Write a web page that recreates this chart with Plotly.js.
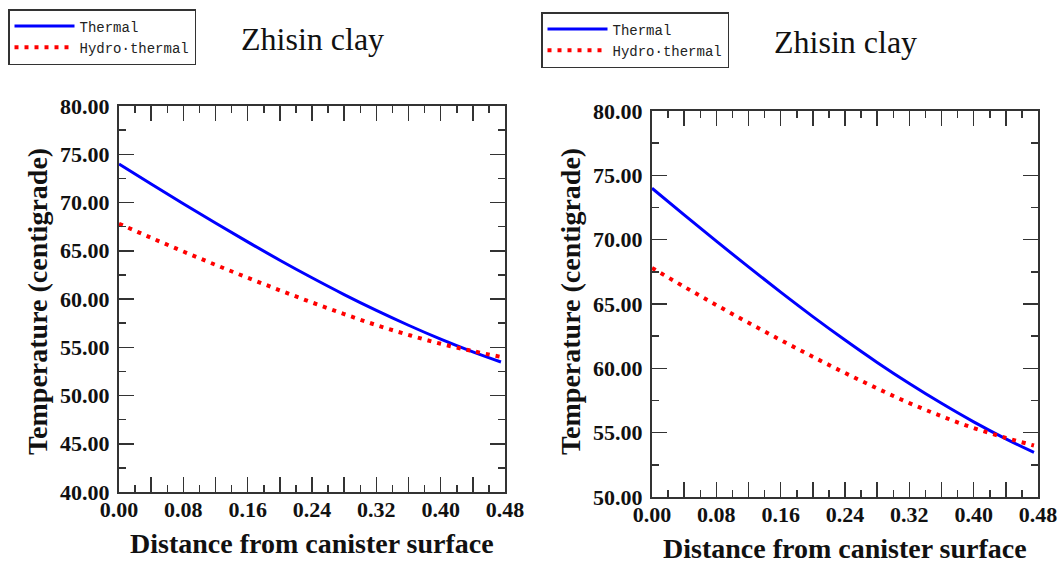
<!DOCTYPE html>
<html><head><meta charset="utf-8">
<script src="https://cdn.plot.ly/plotly-3.0.1.min.js"></script>
<style>html,body{margin:0;padding:0;background:#fff}#chart{width:1059px;height:563px}</style>
</head><body><div id="chart"></div>
<script>
// Data; both panels show the same curves
const distance = [0, 0.04, 0.08, 0.12, 0.16, 0.20, 0.24, 0.28, 0.32, 0.36, 0.40, 0.44, 0.475];
const thermal = [74.0, 71.92, 69.88, 67.88, 65.92, 64.02, 62.2, 60.46, 58.82, 57.28, 55.84, 54.52, 53.47];
const hydroThermal = [67.8, 66.34, 64.92, 63.54, 62.2, 60.9, 59.64, 58.44, 57.3, 56.28, 55.36, 54.6, 54.0];
const seriesNames = ['Thermal', 'Hydro\u00B7thermal'];
const chartTitle = 'Zhisin clay';
const xTitle = 'Distance from canister surface';
const yTitle = 'Temperature (centigrade)';
const xTickVals = [0, 0.04, 0.08, 0.12, 0.16, 0.20, 0.24, 0.28, 0.32, 0.36, 0.40, 0.44, 0.48];
const xTickText = ['0.00', '', '0.08', '', '0.16', '', '0.24', '', '0.32', '', '0.40', '', '0.48'];
const leftYRange = [40, 80];
const rightYRange = [50, 80];

const W = 1059, H = 563;
const px = v => v / W;
const py = v => 1 - v / H;

const blueLine = {color: '#0000ff', width: 3, shape: 'spline'};
const redLine = {color: '#ff0000', width: 4, dash: '4px,6px', shape: 'spline'};

const traces = [
  {x: distance, y: thermal, name: seriesNames[0], mode: 'lines', line: blueLine, xaxis: 'x', yaxis: 'y', legend: 'legend'},
  {x: distance, y: hydroThermal, name: seriesNames[1], mode: 'lines', line: redLine, xaxis: 'x', yaxis: 'y', legend: 'legend'},
  {x: distance, y: thermal, name: seriesNames[0], mode: 'lines', line: blueLine, xaxis: 'x2', yaxis: 'y2', legend: 'legend2'},
  {x: distance, y: hydroThermal, name: seriesNames[1], mode: 'lines', line: redLine, xaxis: 'x2', yaxis: 'y2', legend: 'legend2'}
];

const tickFont = {family: 'Liberation Serif', size: 22, color: '#111', weight: 'bold'};
const axisCommon = {
  showline: true, linecolor: '#333', linewidth: 2, mirror: 'ticks',
  ticks: 'inside', ticklen: 15, tickwidth: 1.5, tickcolor: '#333',
  showgrid: false, zeroline: false, tickfont: tickFont, fixedrange: true
};
function xAxis(domain) {
  return Object.assign({}, axisCommon, {
    domain: domain, range: [0, 0.48], tickmode: 'array', tickvals: xTickVals, ticktext: xTickText,
    ticklabelstandoff: -3,
    minor: {dtick: 0.02, tick0: 0, ticks: 'inside', ticklen: 7, tickwidth: 1.5, tickcolor: '#333'}
  });
}
function yAxis(domain, range, anchor) {
  return Object.assign({}, axisCommon, {
    domain: domain, range: range, dtick: 5, tick0: 0, tickformat: '.2f', anchor: anchor,
    ticklabelstandoff: 3,
    minor: {dtick: 2.5, tick0: 0, ticks: 'inside', ticklen: 7, tickwidth: 1.5, tickcolor: '#333'}
  });
}
const legendCommon = {
  xanchor: 'left', yanchor: 'top', bgcolor: '#fff', bordercolor: '#333', borderwidth: 1.5,
  font: {family: 'Liberation Mono', size: 14, color: '#222'}, tracegroupgap: 0, itemwidth: 60
};

const titleFont = {family: 'Liberation Serif', size: 32, color: '#111'};
const axTitleFont = {family: 'Liberation Serif', size: 28, color: '#111', weight: 'bold'};

const layout = {
  width: W, height: H, margin: {l: 0, r: 0, t: 0, b: 0},
  paper_bgcolor: '#fff', plot_bgcolor: '#fff', showlegend: true,
  xaxis: xAxis([px(119), px(505)]),
  yaxis: yAxis([py(492), py(106)], leftYRange, 'x'),
  xaxis2: Object.assign(xAxis([px(652), px(1038)]), {anchor: 'y2'}),
  yaxis2: yAxis([py(497), py(111)], rightYRange, 'x2'),
  legend: Object.assign({x: px(8), y: py(9)}, legendCommon),
  legend2: Object.assign({x: px(541), y: py(12)}, legendCommon),
  annotations: [
    {text: chartTitle, x: px(312), y: py(39), xref: 'paper', yref: 'paper', xanchor: 'center', yanchor: 'middle', showarrow: false, font: titleFont},
    {text: chartTitle, x: px(845), y: py(42), xref: 'paper', yref: 'paper', xanchor: 'center', yanchor: 'middle', showarrow: false, font: titleFont},
    {text: xTitle, x: px(312), y: py(543), xref: 'paper', yref: 'paper', xanchor: 'center', yanchor: 'middle', showarrow: false, font: axTitleFont},
    {text: xTitle, x: px(845), y: py(548), xref: 'paper', yref: 'paper', xanchor: 'center', yanchor: 'middle', showarrow: false, font: axTitleFont},
    {text: yTitle, x: px(37), y: py(302), xref: 'paper', yref: 'paper', xanchor: 'center', yanchor: 'middle', textangle: -90, showarrow: false, font: axTitleFont},
    {text: yTitle, x: px(570), y: py(302), xref: 'paper', yref: 'paper', xanchor: 'center', yanchor: 'middle', textangle: -90, showarrow: false, font: axTitleFont}
  ]
};

Plotly.newPlot('chart', traces, layout, {displayModeBar: false, staticPlot: true});
</script>
</body></html>
